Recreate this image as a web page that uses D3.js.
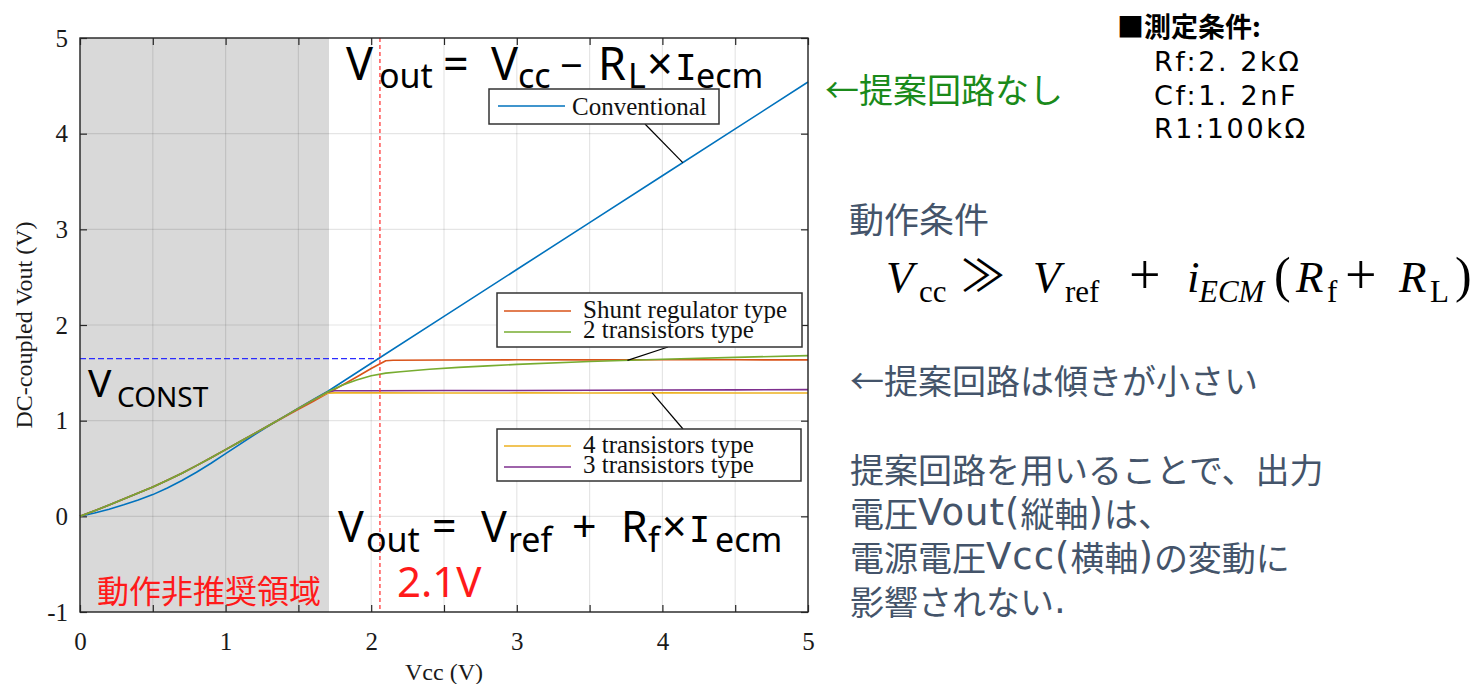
<!DOCTYPE html>
<html>
<head>
<meta charset="utf-8">
<script src="https://cdn.jsdelivr.net/npm/d3@7"></script>
<style>
  html, body { margin: 0; padding: 0; background: #fff; }
  svg { display: block; }
</style>
</head>
<body>
<svg id="chart" width="1475" height="684"></svg>
<script>
// ---- measured DC output voltage vs supply voltage ----
const convVcc  = [0,0.1,0.2,0.3,0.4,0.5,0.6,0.7,0.8,0.9,1.0,1.1,1.2,1.3,1.4,1.5,1.6,1.7,2.0,2.5,3.0,3.5,4.0,4.5,5.0];
const convVout = [0,0.035,0.075,0.12,0.17,0.227,0.297,0.375,0.461,0.555,0.655,0.755,0.855,0.95,1.04,1.13,1.22,1.305,1.6,2.09,2.58,3.07,3.56,4.05,4.54];

const shuntVcc  = [0,0.1,0.2,0.3,0.4,0.5,0.6,0.7,0.8,0.9,1.0,1.1,1.2,1.3,1.4,1.5,1.6,1.7,1.8,1.9,2.0,2.1,2.15,2.5,3.0,3.5,4.0,4.5,5.0];
const shuntVout = [0,0.058,0.118,0.18,0.243,0.307,0.377,0.45,0.53,0.612,0.697,0.782,0.867,0.952,1.035,1.118,1.2,1.285,1.37,1.457,1.545,1.627,1.632,1.634,1.636,1.635,1.637,1.636,1.635];

const fourTrVcc  = [0,0.1,0.2,0.3,0.4,0.5,0.6,0.7,0.8,0.9,1.0,1.1,1.2,1.3,1.4,1.5,1.6,1.7,1.75,2.0,2.5,3.0,3.5,4.0,4.5,5.0];
const fourTrVout = [0,0.058,0.118,0.18,0.243,0.307,0.377,0.45,0.53,0.612,0.697,0.782,0.867,0.952,1.04,1.128,1.215,1.288,1.29,1.29,1.289,1.29,1.289,1.29,1.289,1.289];

const threeTrVcc  = [0,0.1,0.2,0.3,0.4,0.5,0.6,0.7,0.8,0.9,1.0,1.1,1.2,1.3,1.4,1.5,1.6,1.7,1.75,2.0,2.5,3.0,3.5,4.0,4.5,5.0];
const threeTrVout = [0,0.058,0.118,0.18,0.243,0.307,0.377,0.45,0.53,0.612,0.697,0.782,0.867,0.952,1.04,1.128,1.215,1.3,1.312,1.313,1.315,1.316,1.318,1.32,1.322,1.325];

const twoTrVcc  = [0,0.1,0.2,0.3,0.4,0.5,0.6,0.7,0.8,0.9,1.0,1.1,1.2,1.3,1.4,1.5,1.6,1.7,1.8,1.9,2.0,2.1,2.2,2.4,2.6,2.8,3.0,3.5,4.0,4.5,5.0];
const twoTrVout = [0,0.058,0.118,0.18,0.243,0.307,0.377,0.45,0.53,0.612,0.697,0.782,0.867,0.952,1.04,1.128,1.215,1.3,1.37,1.425,1.47,1.497,1.512,1.537,1.557,1.573,1.588,1.618,1.642,1.662,1.68];

const seriesNames  = ["Conventional","Shunt regulator type","4 transistors type","3 transistors type","2 transistors type"];
const seriesColors = ["#0072BD","#D95319","#EDB120","#7E2F8E","#77AC30"];

const xTicks      = [0,0.5,1,1.5,2,2.5,3,3.5,4,4.5,5];
const yTicks      = [-1,0,1,2,3,4,5];
const shadeRange  = [0, 1.71];   // operation not recommended below this Vcc
const vccMarker   = 2.06;        // red dashed line
const vconstLevel = 1.648;       // blue dashed line

const series = [
  {name: seriesNames[0], color: seriesColors[0], vcc: convVcc,    vout: convVout},
  {name: seriesNames[1], color: seriesColors[1], vcc: shuntVcc,   vout: shuntVout},
  {name: seriesNames[2], color: seriesColors[2], vcc: fourTrVcc,  vout: fourTrVout},
  {name: seriesNames[3], color: seriesColors[3], vcc: threeTrVcc, vout: threeTrVout},
  {name: seriesNames[4], color: seriesColors[4], vcc: twoTrVcc,   vout: twoTrVout}
];

// ---- layout ----
const svg = d3.select("#chart");
const pL = 80, pR = 808, pT = 38, pB = 612;
const x = d3.scaleLinear().domain([0, 5]).range([pL, pR]);
const y = d3.scaleLinear().domain([-1, 5]).range([pB, pT]);
const serif = "'Liberation Serif', 'Times New Roman', serif";
const gothic = "'Noto Sans CJK JP', 'Noto Sans', sans-serif";
const latin = "'Noto Sans', 'Noto Sans CJK JP', sans-serif";
const wide = "'DejaVu Sans', 'Noto Sans', sans-serif";
const slabI = "'DejaVu Sans Mono', monospace";

// shaded region
svg.append("rect")
  .attr("x", x(shadeRange[0])).attr("y", pT)
  .attr("width", x(shadeRange[1]) - x(shadeRange[0]))
  .attr("height", pB - pT)
  .attr("fill", "#d9d9d9");

// grid
const grid = svg.append("g").attr("stroke", "#000").attr("stroke-opacity", 0.1).attr("stroke-width", 1.2);
grid.selectAll("line.v").data(xTicks).join("line")
  .attr("x1", d => x(d)).attr("x2", d => x(d)).attr("y1", pT).attr("y2", pB);
grid.selectAll("line.h").data(yTicks).join("line")
  .attr("x1", pL).attr("x2", pR).attr("y1", d => y(d)).attr("y2", d => y(d));

// axes (ticks pointing inward)
const fmt = d => Number.isInteger(d) ? String(d) : "";
const gB = svg.append("g").attr("transform", `translate(0,${pB})`)
  .call(d3.axisBottom(x).tickValues(xTicks).tickSize(-7).tickPadding(20).tickFormat(fmt));
const gT = svg.append("g").attr("transform", `translate(0,${pT})`)
  .call(d3.axisTop(x).tickValues(xTicks).tickSize(-7).tickFormat(""));
const gL = svg.append("g").attr("transform", `translate(${pL},0)`)
  .call(d3.axisLeft(y).tickValues(yTicks).tickSize(-7).tickPadding(12).tickFormat(d => String(d)));
const gR = svg.append("g").attr("transform", `translate(${pR},0)`)
  .call(d3.axisRight(y).tickValues(yTicks).tickSize(-7).tickFormat(""));
[gB, gT, gL, gR].forEach(g => {
  g.select(".domain").remove();
  g.selectAll(".tick line").attr("stroke", "#262626").attr("stroke-width", 1.2);
  g.selectAll(".tick text").attr("fill", "#1a1a1a").style("font-family", serif).style("font-size", "25px");
});

// dashed guide at the regulated level
svg.append("line")
  .attr("x1", pL).attr("x2", x(vccMarker))
  .attr("y1", y(vconstLevel)).attr("y2", y(vconstLevel))
  .attr("stroke", "#2b2bff").attr("stroke-width", 1.2).attr("stroke-dasharray", "6,3");

// curves
const line = d3.line().x(d => x(d[0])).y(d => y(d[1]));
svg.append("g").selectAll("path").data(series).join("path")
  .attr("d", s => line(s.vcc.map((v, i) => [v, s.vout[i]])))
  .attr("fill", "none")
  .attr("stroke", s => s.color)
  .attr("stroke-width", 1.6)
  .attr("stroke-linejoin", "round");

svg.append("line")
  .attr("x1", x(vccMarker)).attr("x2", x(vccMarker))
  .attr("y1", pT).attr("y2", pB)
  .attr("stroke", "#ff3b3b").attr("stroke-width", 1.3).attr("stroke-dasharray", "4,3");

// frame
svg.append("rect")
  .attr("x", pL).attr("y", pT).attr("width", pR - pL).attr("height", pB - pT)
  .attr("fill", "none").attr("stroke", "#262626").attr("stroke-width", 1.4);

// axis titles
svg.append("text")
  .attr("x", (pL + pR) / 2).attr("y", 680)
  .attr("text-anchor", "middle")
  .style("font-family", serif).style("font-size", "24px").attr("fill", "#1a1a1a")
  .text("Vcc (V)");
svg.append("text")
  .attr("transform", `translate(32,${(pT + pB) / 2}) rotate(-90)`)
  .attr("text-anchor", "middle")
  .style("font-family", serif).style("font-size", "24px").attr("fill", "#1a1a1a")
  .text("DC-coupled Vout (V)");

// value on a series at a given Vcc
function at(s, v) {
  const i = d3.bisectLeft(s.vcc, v);
  if (i <= 0) return s.vout[0];
  const t = (v - s.vcc[i - 1]) / (s.vcc[i] - s.vcc[i - 1]);
  return s.vout[i - 1] + t * (s.vout[i] - s.vout[i - 1]);
}

// legends with pointer lines
const legends = [
  {box: [489, 89, 230, 35], items: [0], sampleX: 498, textX: 572, rows: [106], base: [115],
   pointFrom: [645, 124], target: {s: 0, v: 4.14}},
  {box: [497, 293, 305, 54], items: [1, 4], sampleX: 504, textX: 583, rows: [311, 332], base: [318, 338],
   pointFrom: [668, 347], target: {s: 4, v: 3.76}},
  {box: [497, 429, 304, 52], items: [2, 3], sampleX: 504, textX: 583, rows: [446, 467], base: [453, 473],
   pointFrom: [683, 429], target: {s: 2, v: 3.93}}
];
legends.forEach(L => {
  const s = series[L.target.s];
  svg.append("line")
    .attr("x1", L.pointFrom[0]).attr("y1", L.pointFrom[1])
    .attr("x2", x(L.target.v)).attr("y2", y(at(s, L.target.v)))
    .attr("stroke", "#000").attr("stroke-width", 1.2);
  const g = svg.append("g");
  g.append("rect")
    .attr("x", L.box[0]).attr("y", L.box[1]).attr("width", L.box[2]).attr("height", L.box[3])
    .attr("fill", "#fff").attr("stroke", "#333").attr("stroke-width", 1.5);
  L.items.forEach((k, j) => {
    g.append("line")
      .attr("x1", L.sampleX).attr("x2", L.sampleX + 67)
      .attr("y1", L.rows[j]).attr("y2", L.rows[j])
      .attr("stroke", series[k].color).attr("stroke-width", 1.6);
    g.append("text")
      .attr("x", L.textX).attr("y", L.base[j])
      .style("font-family", serif).style("font-size", "25px").attr("fill", "#111")
      .text(series[k].name);
  });
});

// formula text helper: pieces of [text, x, baseline, size, style, family]
function formula(pieces, family, color) {
  const t = svg.append("text").style("font-family", family).attr("fill", color);
  pieces.forEach(p => {
    const ts = t.append("tspan").attr("x", p[1]).attr("y", p[2]).style("font-size", p[3] + "px").text(p[0]);
    if (p[4]) ts.style("font-style", p[4]);
    if (p[5]) ts.style("font-family", p[5]);
  });
  return t;
}

formula([
  ["V", 346, 80, 45], ["out", 379, 88, 34], ["=", 443, 80, 45],
  ["V", 491, 80, 45], ["cc", 518, 88, 34], ["\u2212", 560, 80, 40],
  ["R", 598, 80, 45], ["L", 628, 88, 34], ["\u00d7", 647, 80, 45],
  ["I", 675, 80, 36, null, slabI], ["ecm", 696, 88, 34]
], latin, "#000");

formula([
  ["V", 338, 542, 43], ["out", 366, 552, 34], ["=", 432, 542, 43],
  ["V", 481, 542, 43], ["ref", 508, 552, 34], ["+", 572, 542, 43],
  ["R", 621, 542, 43], ["f", 648, 552, 34], ["\u00d7", 662, 542, 43],
  ["I", 689, 542, 35, null, slabI], ["ecm", 715, 552, 34]
], latin, "#000");

formula([["V", 88, 397, 39], ["CONST", 117, 407, 28]], latin, "#000");

svg.append("text").attr("x", 97).attr("y", 589).attr("dominant-baseline", "central")
  .style("font-family", gothic).style("font-size", "32px").attr("fill", "#ff1a1a")
  .text("動作非推奨領域");
svg.append("text").attr("x", 397).attr("y", 597)
  .style("font-family", latin).style("font-size", "42px").attr("fill", "#ff1a1a")
  .text("2.1V");

// right-hand notes
svg.append("text").attr("x", 825).attr("y", 88).attr("dominant-baseline", "central")
  .style("font-family", gothic).style("font-size", "34px").attr("fill", "#1a8a1a")
  .text("←提案回路なし");

svg.append("text").attr("x", 1117).attr("y", 25).attr("dominant-baseline", "central")
  .style("font-family", gothic).style("font-size", "27px").style("font-weight", "bold").attr("fill", "#000")
  .text("■測定条件:");
[["Rf:2. 2kΩ", 61], ["Cf:1. 2nF", 95], ["R1:100kΩ", 128]].forEach(r => {
  svg.append("text").attr("x", 1154).attr("y", r[1]).attr("dominant-baseline", "central")
    .style("font-family", wide).style("font-size", "27px").style("letter-spacing", "2.6px").attr("fill", "#000")
    .text(r[0]);
});

const noteColor = "#44546A";
svg.append("text").attr("x", 849).attr("y", 217).attr("dominant-baseline", "central")
  .style("font-family", gothic).style("font-size", "35px").attr("fill", noteColor)
  .text("動作条件");

formula([
  ["V", 886, 292, 45, "italic"], ["cc", 919, 302, 31], ["\u226b", 961, 292, 44, null, gothic],
  ["V", 1033, 292, 45, "italic"], ["ref", 1065, 302, 31], ["+", 1129, 294, 56],
  ["i", 1187, 292, 45, "italic"], ["ECM", 1199, 302, 31, "italic"], ["(", 1274, 292, 50],
  ["R", 1296, 292, 45, "italic"], ["f", 1327, 302, 31], ["+", 1345, 294, 56],
  ["R", 1399, 292, 45, "italic"], ["L", 1430, 302, 31], [")", 1455, 292, 50]
], serif, "#000");

svg.append("text").attr("x", 850).attr("y", 379).attr("dominant-baseline", "central")
  .style("font-family", gothic).style("font-size", "34px").attr("fill", noteColor)
  .text("←提案回路は傾きが小さい");

// paragraph lines: segments of [text, latin?]
const para = [
  [["提案回路を用いることで、出力", false]],
  [["電圧", false], ["Vout(", true], ["縦軸", false], [")", true], ["は、", false]],
  [["電源電圧", false], ["Vcc(", true], ["横軸", false], [")", true], ["の変動に", false]],
  [["影響されない", false], [".", true]]
];
const paraG = svg.append("g");
para.forEach((segs, i) => {
  const t = paraG.append("text").attr("x", 850).attr("y", 468 + i * 44)
    .attr("dominant-baseline", "central")
    .style("font-family", gothic).style("font-size", "34px").attr("fill", noteColor);
  segs.forEach(s => {
    const ts = t.append("tspan").text(s[0]);
    if (s[1]) ts.style("font-family", wide).style("font-size", "37px").style("letter-spacing", "1px");
  });
});
</script>
</body>
</html>
